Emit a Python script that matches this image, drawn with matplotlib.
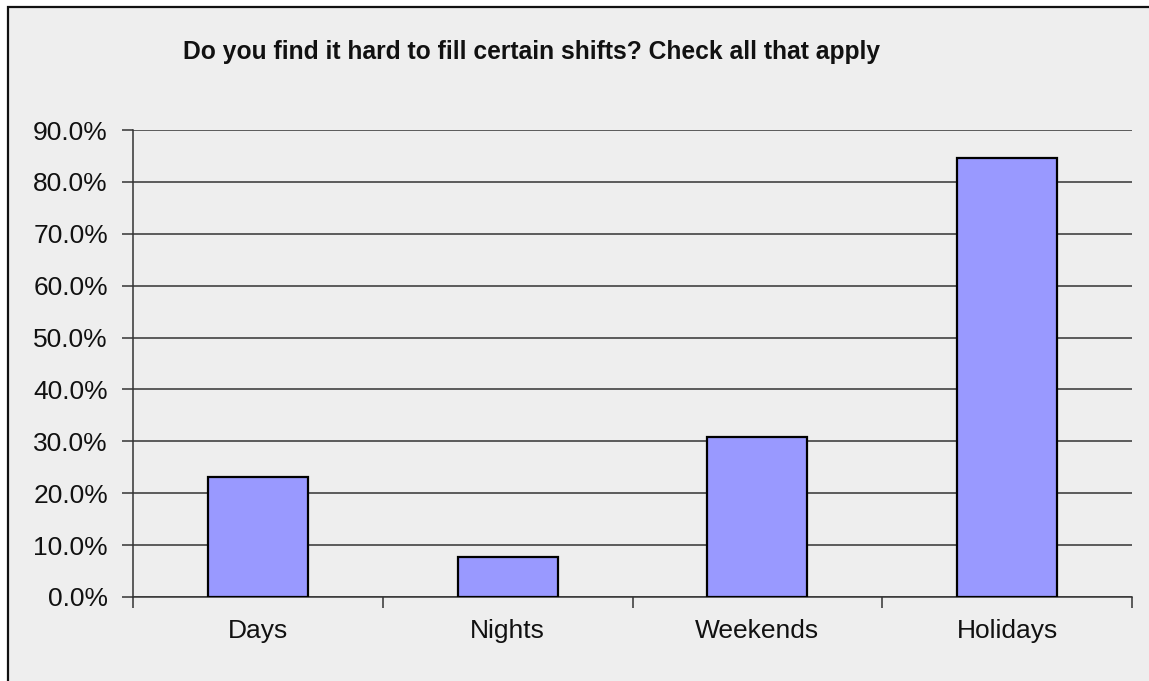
import matplotlib
matplotlib.use("Agg")
import matplotlib.pyplot as plt
from matplotlib.patches import Rectangle
from matplotlib.ticker import FixedLocator, PercentFormatter
from matplotlib import font_manager as fm

categories = ["Days", "Nights", "Weekends", "Holidays"]
values = [23.1, 7.7, 30.8, 84.6]
yticks = [0, 10, 20, 30, 40, 50, 60, 70, 80, 90]
title = "Do you find it hard to fill certain shifts? Check all that apply"

W, H = 1149, 681
fig = plt.figure(figsize=(W / 100, H / 100), dpi=100, facecolor="white")
plt.rcParams["font.family"] = ["Liberation Sans", "DejaVu Sans"]

# chart area background with border on left/top
bg = Rectangle((7.5 / W, -0.05), 1.1, 1.05 - 7.5 / H, transform=fig.transFigure,
               facecolor="#EEEEEE", edgecolor="#111111", linewidth=1.6, zorder=-10)
fig.patches.append(bg)

ax = fig.add_axes([133 / W, 84 / H, (1132 - 133) / W, (597 - 130) / H])
ax.set_facecolor("none")
x = list(range(len(categories)))
ax.bar(x, values, width=0.4, color="#9999FF", edgecolor="black", linewidth=1.6, zorder=3)

ax.set_xlim(-0.5, len(categories) - 0.5)
ax.set_ylim(0, 90)
ax.set_yticks(yticks)
ax.yaxis.set_major_formatter(PercentFormatter(decimals=1))
ax.yaxis.grid(True, color="#333333", linewidth=1.1, zorder=0)
ax.set_axisbelow(True)

ax.xaxis.set_major_locator(FixedLocator([i - 0.5 for i in range(len(categories) + 1)]))
ax.xaxis.set_minor_locator(FixedLocator(x))
ax.set_xticklabels([], minor=False)
ax.set_xticklabels(categories, minor=True)
ax.tick_params(axis="x", which="major", length=8, width=1.1, color="#333333", direction="out")
ax.tick_params(axis="x", which="minor", length=0, pad=16, labelsize=19, labelcolor="#111111")
ax.tick_params(axis="y", length=8, width=1.1, color="#333333", pad=10, labelsize=19,
               labelcolor="#111111")

for s in ["top", "right"]:
    ax.spines[s].set_visible(False)
for s in ["left", "bottom"]:
    ax.spines[s].set_color("#333333")
    ax.spines[s].set_linewidth(1.1)

names = {f.name for f in fm.fontManager.ttflist}
tfam = ["Liberation Sans Narrow", "Liberation Sans"] if "Liberation Sans Narrow" in names else ["Liberation Sans"]
fig.text(532 / W, 1 - 52 / H, title, ha="center", va="center", fontsize=17.7,
         fontweight="bold", family=tfam, color="#111111")

fig.savefig("out.png", dpi=100, facecolor="white")
